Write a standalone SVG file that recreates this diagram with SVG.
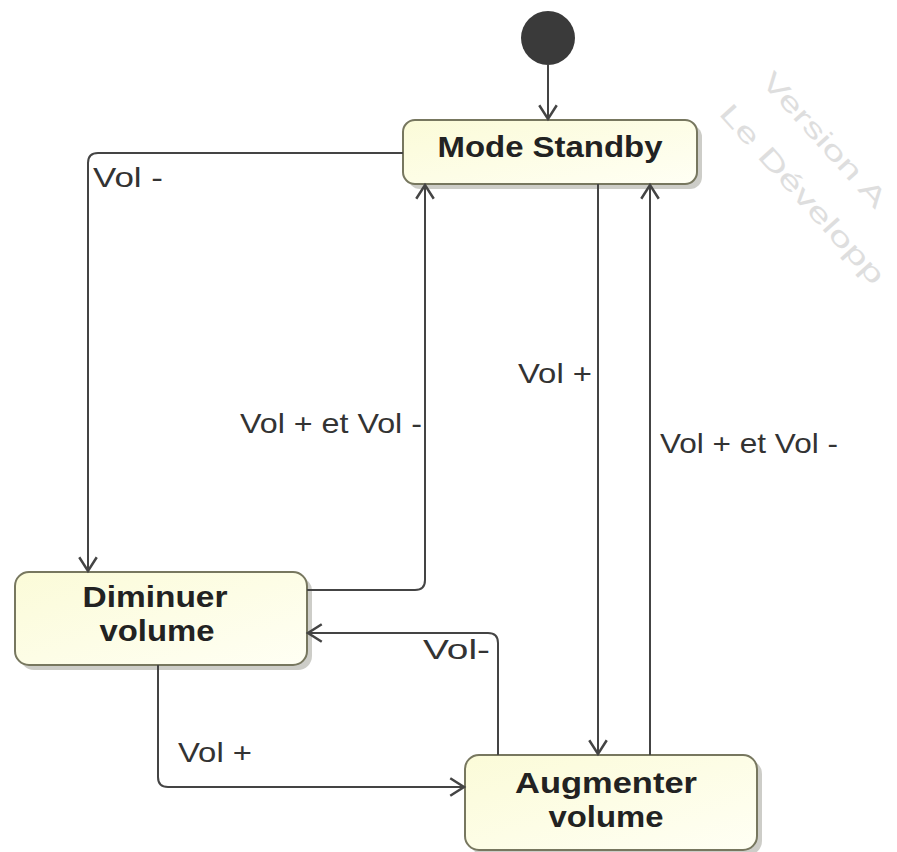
<svg xmlns="http://www.w3.org/2000/svg" width="897" height="852" viewBox="0 0 897 852">
<style>
.node{fill:url(#g);stroke:#77775f;stroke-width:2}
.shadow{fill:#b8b8b0;opacity:0.7}
.nt{font-family:"Liberation Sans",Arial,sans-serif;font-weight:bold;font-size:30px;fill:#222;text-anchor:middle}
.lb{font-family:"Liberation Sans",Arial,sans-serif;font-size:28px;fill:#333}
.edge{fill:none;stroke:#444;stroke-width:2}
.wm{font-family:"Liberation Sans",Arial,sans-serif;font-size:27px;fill:#dedede}
</style>
<defs>
<linearGradient id="g" x1="0" y1="0" x2="1" y2="1">
<stop offset="0" stop-color="#fbfbd8"/>
<stop offset="1" stop-color="#fffff4"/>
</linearGradient>
<marker id="a" markerWidth="20" markerHeight="20" viewBox="-12 -8 14 16" refX="0" refY="0" orient="auto" markerUnits="userSpaceOnUse">
<path d="M-11,-7 L0,0 L-11,7" fill="none" stroke="#444" stroke-width="2"/>
</marker>
</defs>
<rect width="897" height="852" fill="#ffffff"/>
<g id="watermark">
<text class="wm" transform="translate(760,82) rotate(48)" textLength="172" lengthAdjust="spacingAndGlyphs">Version A</text>
<text class="wm" transform="translate(718,114) rotate(48)" textLength="232" lengthAdjust="spacingAndGlyphs">Le Développ</text>
</g>
<g id="initial">
<circle cx="548" cy="38" r="27" fill="#3a3a3a"/>
</g>
<g id="standby">
<rect class="shadow" x="408" y="125" width="294" height="64" rx="12"/>
<rect class="node" x="403" y="120" width="294" height="64" rx="12"/>
<text class="nt" x="550" y="157" textLength="225" lengthAdjust="spacingAndGlyphs">Mode Standby</text>
</g>
<g id="diminuer">
<rect class="shadow" x="20" y="577" width="292" height="93" rx="14"/>
<rect class="node" x="15" y="572" width="292" height="93" rx="14"/>
<text class="nt" x="155" y="607" textLength="145" lengthAdjust="spacingAndGlyphs">Diminuer</text>
<text class="nt" x="157" y="641" textLength="115" lengthAdjust="spacingAndGlyphs">volume</text>
</g>
<g id="augmenter">
<rect class="shadow" x="470" y="760" width="292" height="95" rx="14"/>
<rect class="node" x="465" y="755" width="292" height="95" rx="14"/>
<text class="nt" x="606" y="793" textLength="182" lengthAdjust="spacingAndGlyphs">Augmenter</text>
<text class="nt" x="606" y="827" textLength="115" lengthAdjust="spacingAndGlyphs">volume</text>
</g>
<g id="connectors">
<path class="edge" d="M548,65 V119" marker-end="url(#a)"/>
<path class="edge" d="M403,153 H98 Q88,153 88,163 V571" marker-end="url(#a)"/>
<path class="edge" d="M307,590 H415 Q425,590 425,580 V185" marker-end="url(#a)"/>
<path class="edge" d="M598,184 V754" marker-end="url(#a)"/>
<path class="edge" d="M650,755 V185" marker-end="url(#a)"/>
<path class="edge" d="M498,755 V643 Q498,633 488,633 H308" marker-end="url(#a)"/>
<path class="edge" d="M158,665 V777 Q158,787 168,787 H464" marker-end="url(#a)"/>
</g>
<g id="labels">
<text class="lb" x="93" y="187" textLength="70" lengthAdjust="spacingAndGlyphs">Vol -</text>
<text class="lb" x="240" y="433" textLength="182" lengthAdjust="spacingAndGlyphs">Vol + et Vol -</text>
<text class="lb" x="518" y="383" textLength="74" lengthAdjust="spacingAndGlyphs">Vol +</text>
<text class="lb" x="660" y="453" textLength="178" lengthAdjust="spacingAndGlyphs">Vol + et Vol -</text>
<text class="lb" x="423" y="659" textLength="67" lengthAdjust="spacingAndGlyphs">Vol-</text>
<text class="lb" x="178" y="762" textLength="74" lengthAdjust="spacingAndGlyphs">Vol +</text>
</g>
</svg>
